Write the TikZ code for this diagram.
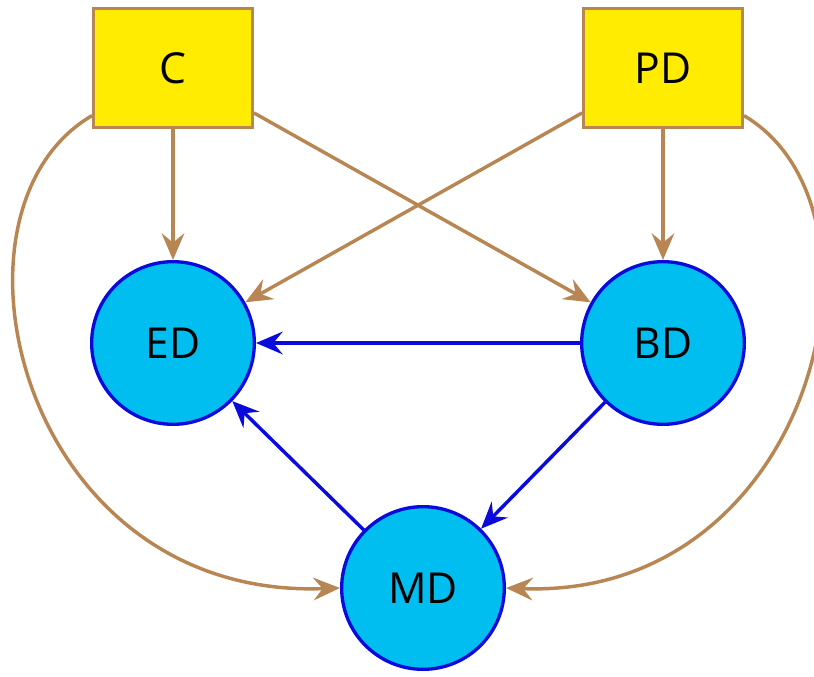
\documentclass[tikz,border=0pt]{standalone}
\usepackage{fontspec}
\setmainfont{Open Sans}
\usetikzlibrary{arrows.meta}
\definecolor{linkbrown}{RGB}{184,134,82}
\definecolor{boxyellow}{RGB}{255,236,0}
\definecolor{nodecyan}{RGB}{0,190,240}
\definecolor{edgeblue}{RGB}{10,10,220}
\tikzset{
  factor/.style={draw=linkbrown, line width=2.4pt, fill=boxyellow,
    minimum width=119pt, minimum height=89pt, inner sep=0pt,
    font=\fontsize{32}{36}\selectfont},
  domainnode/.style={circle, draw=edgeblue, line width=2.5pt, fill=nodecyan,
    minimum size=122pt, inner sep=0pt, font=\fontsize{32}{36}\selectfont},
  tip/.style={-{Stealth[length=20pt,width=17pt,inset=7pt]}},
  cause/.style={draw=linkbrown, line width=2.6pt, tip},
  effect/.style={draw=edgeblue, line width=2.6pt, tip}
}
\begin{document}
\begin{tikzpicture}[x=0.75pt,y=-0.75pt]
  \useasboundingbox (0,0) rectangle (814,677);
  % exogenous factors
  \node[factor] (C)  at (173,68) {C};
  \node[factor] (PD) at (663,68) {PD};
  % dependent domains
  \node[domainnode] (ED) at (173,343) {ED};
  \node[domainnode] (BD) at (663,343) {BD};
  \node[domainnode] (MD) at (423,588) {MD};
  % anchor points on the box sides
  \path (C.south east) ++(0,12pt) coordinate (cse);
  \path (PD.south west) ++(0,12pt) coordinate (psw);
  \path (C.south west) ++(0,10pt) coordinate (csw);
  \path (PD.south east) ++(0,10pt) coordinate (pse);
  % direct influences of the factors
  \draw[cause] (C) -- (ED);
  \draw[cause] (PD) -- (BD);
  \draw[cause] (cse) -- (BD);
  \draw[cause] (psw) -- (ED);
  % long-range influences on MD
  \draw[cause] (csw) .. controls (-70,210) and (20,600) .. (MD.west);
  \draw[cause] (pse) .. controls (904,210) and (814,600) .. (MD.east);
  % relations between domains
  \draw[effect] (BD) -- (ED);
  \draw[effect] (BD) -- (MD);
  \draw[effect] (MD) -- (ED);
\end{tikzpicture}
\end{document}
